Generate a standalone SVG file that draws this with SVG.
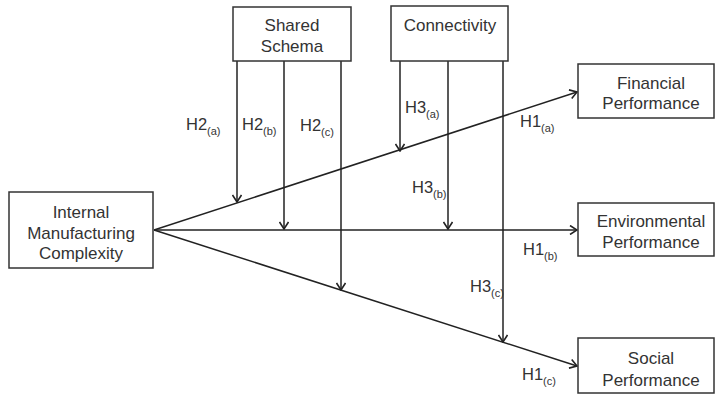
<svg xmlns="http://www.w3.org/2000/svg" width="716" height="398" viewBox="0 0 716 398">
<defs>
<marker id="ah" viewBox="0 0 10 10" refX="9" refY="5" markerWidth="10" markerHeight="10" markerUnits="userSpaceOnUse" orient="auto">
<path d="M2,0.5 L9,5 L2,9.5" fill="none" stroke="#222" stroke-width="1.6"/>
</marker>
<style>
.box{fill:#fff;stroke:#333;stroke-width:1.5}
.t{font-family:"Liberation Sans",Arial,sans-serif;font-size:17px;fill:#333;text-anchor:middle}
.l{font-family:"Liberation Sans",Arial,sans-serif;font-size:16.5px;fill:#333}
.s{font-size:11px}
.c{fill:none;stroke:#222;stroke-width:1.5}
</style>
</defs>
<rect width="716" height="398" fill="#fff"/>
<g id="connectors">
<line class="c" x1="154" y1="230" x2="577" y2="92" marker-end="url(#ah)"/>
<line class="c" x1="154" y1="230" x2="577" y2="230" marker-end="url(#ah)"/>
<line class="c" x1="154" y1="230" x2="577" y2="366" marker-end="url(#ah)"/>
<line class="c" x1="237" y1="61" x2="237" y2="202" marker-end="url(#ah)"/>
<line class="c" x1="284" y1="61" x2="284" y2="229" marker-end="url(#ah)"/>
<line class="c" x1="341" y1="61" x2="341" y2="290" marker-end="url(#ah)"/>
<line class="c" x1="400" y1="61" x2="400" y2="151" marker-end="url(#ah)"/>
<line class="c" x1="448" y1="61" x2="448" y2="229" marker-end="url(#ah)"/>
<line class="c" x1="503" y1="61" x2="503" y2="342" marker-end="url(#ah)"/>
</g>
<g id="imc"><rect class="box" x="9" y="192" width="144" height="76"/>
<text class="t" x="81" y="218">Internal</text><text class="t" x="81" y="239">Manufacturing</text><text class="t" x="81" y="259">Complexity</text></g>
<g id="shared"><rect class="box" x="233" y="7" width="118" height="54"/>
<text class="t" x="292" y="31">Shared</text><text class="t" x="292" y="52">Schema</text></g>
<g id="connectivity"><rect class="box" x="391" y="6" width="117" height="55"/>
<text class="t" x="450" y="31">Connectivity</text></g>
<g id="financial"><rect class="box" x="578" y="64" width="136" height="54"/>
<text class="t" x="651" y="89">Financial</text><text class="t" x="651" y="109">Performance</text></g>
<g id="environmental"><rect class="box" x="578" y="203" width="136" height="53"/>
<text class="t" x="651" y="227">Environmental</text><text class="t" x="651" y="248">Performance</text></g>
<g id="social"><rect class="box" x="578" y="338" width="136" height="55"/>
<text class="t" x="651" y="364">Social</text><text class="t" x="651" y="386">Performance</text></g>
<g id="labels">
<text class="l" x="186" y="130">H2<tspan class="s" dy="5">(a)</tspan></text>
<text class="l" x="242" y="130">H2<tspan class="s" dy="5">(b)</tspan></text>
<text class="l" x="300" y="131">H2<tspan class="s" dy="5">(c)</tspan></text>
<text class="l" x="405" y="113">H3<tspan class="s" dy="5">(a)</tspan></text>
<text class="l" x="520" y="127">H1<tspan class="s" dy="5">(a)</tspan></text>
<text class="l" x="412" y="193">H3<tspan class="s" dy="5">(b)</tspan></text>
<text class="l" x="523" y="255">H1<tspan class="s" dy="5">(b)</tspan></text>
<text class="l" x="470" y="292">H3<tspan class="s" dy="5">(c)</tspan></text>
<text class="l" x="522" y="380">H1<tspan class="s" dy="5">(c)</tspan></text>
</g>
</svg>
